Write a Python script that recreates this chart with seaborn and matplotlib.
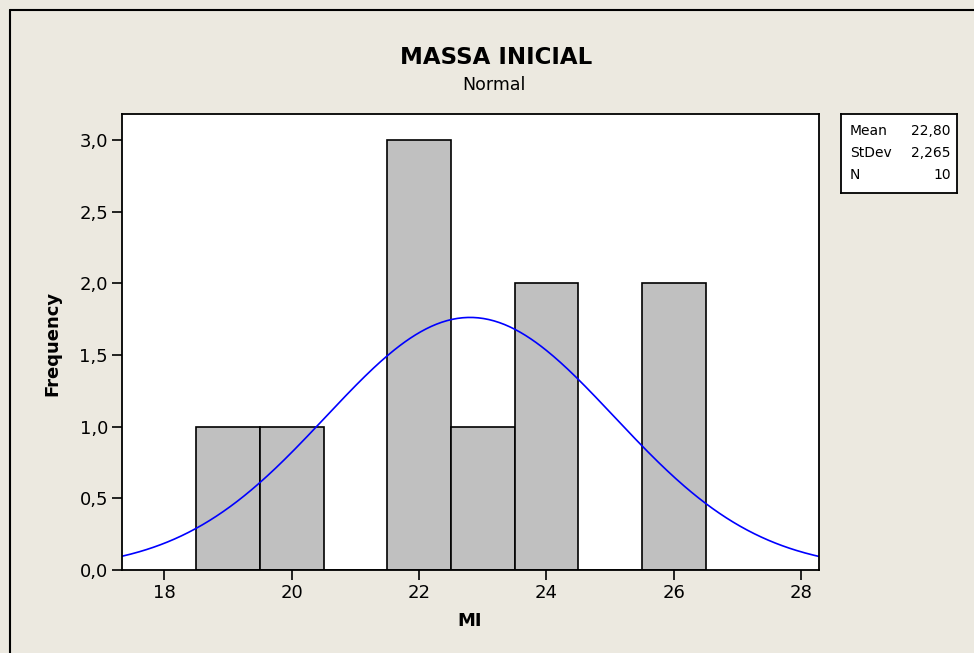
import numpy as np
import pandas as pd
import matplotlib
matplotlib.use("Agg")
import matplotlib.pyplot as plt
from matplotlib.lines import Line2D
import seaborn as sns

# Histogram of initial mass (MI): bin centres and counts, bin width 1
bin_centers = [19, 20, 22, 23, 24, 26]
counts = [1, 1, 3, 1, 2, 2]
bin_edges = [18.5, 19.5, 20.5, 21.5, 22.5, 23.5, 24.5, 25.5, 26.5]

# Fitted normal summary
mean = 22.80
stdev = 2.265
n_obs = 10

x_ticks = [18, 20, 22, 24, 26, 28]
y_ticks = [0.0, 0.5, 1.0, 1.5, 2.0, 2.5, 3.0]

BG = "#ECE9E0"
W, H = 974, 653

sns.set_theme(style="white")
plt.rcParams["font.family"] = ["DejaVu Sans"]

fig = plt.figure(figsize=(W / 100, H / 100), dpi=100, facecolor=BG)

def fx(px):
    return px / W

def fy(py):
    return 1 - py / H

ax = fig.add_axes([fx(122), fy(570), fx(819) - fx(122), fy(114) - fy(570)])
ax.set_facecolor("white")

df = pd.DataFrame({"MI": bin_centers, "count": counts})
sns.histplot(data=df, x="MI", weights="count", bins=bin_edges, ax=ax,
             color="#C0C0C0", edgecolor="black", linewidth=1.2, alpha=1.0)

# Normal curve scaled to counts (N * bin width * pdf)
xmin, xmax = 17.336, 28.278
xs = np.linspace(xmin, xmax, 400)
ys = n_obs * 1.0 * np.exp(-0.5 * ((xs - mean) / stdev) ** 2) / (stdev * np.sqrt(2 * np.pi))
sns.lineplot(x=xs, y=ys, ax=ax, color="#0000FF", linewidth=1.2)

ax.set_xlim(xmin, xmax)
ax.set_ylim(0, 3.18)
ax.set_xticks(x_ticks)
ax.set_xticklabels([str(t) for t in x_ticks])
ax.set_yticks(y_ticks)
ax.set_yticklabels([f"{t:.1f}".replace(".", ",") for t in y_ticks])
ax.tick_params(axis="both", which="major", direction="out", length=7, width=1.2,
               color="black", labelsize=13, labelcolor="black", pad=3,
               bottom=True, left=True)
for sp in ax.spines.values():
    sp.set_color("black")
    sp.set_linewidth(1.3)
ax.set_xlabel("")
ax.set_ylabel("")
ax.grid(False)

# Titles and axis labels
fig.text(fx(496), fy(57), "MASSA INICIAL", ha="center", va="center",
         fontsize=16.5, fontweight="bold", color="black")
fig.text(fx(494), fy(85), "Normal", ha="center", va="center",
         fontsize=12.5, color="black")
fig.text(fx(470), fy(621), "MI", ha="center", va="center",
         fontsize=13, fontweight="bold", color="black")
fig.text(fx(52), fy(343), "Frequency", ha="center", va="center", rotation=90,
         fontsize=13, fontweight="bold", color="black")

# Summary box
bx = fig.add_axes([fx(841), fy(193), fx(957) - fx(841), fy(114) - fy(193)])
bx.set_facecolor("white")
bx.set_xticks([])
bx.set_yticks([])
for sp in bx.spines.values():
    sp.set_color("black")
    sp.set_linewidth(1.3)
rows = [("Mean", f"{mean:.2f}".replace(".", ",")),
        ("StDev", f"{stdev:.3f}".replace(".", ",")),
        ("N", str(n_obs))]
for i, (k, v) in enumerate(rows):
    yy = fy(131 + 22 * i)
    fig.text(fx(850), yy, k, ha="left", va="center", fontsize=10, color="black")
    fig.text(fx(951), yy, v, ha="right", va="center", fontsize=10, color="black")

# Outer frame (left and top edges)
fig.add_artist(Line2D([fx(9.5), fx(9.5)], [0, fy(9.5)], transform=fig.transFigure,
                      color="black", linewidth=1.5))
fig.add_artist(Line2D([fx(9.5), 1], [fy(9.5), fy(9.5)], transform=fig.transFigure,
                      color="black", linewidth=1.5))

fig.savefig("out.png", dpi=100, facecolor=BG)
